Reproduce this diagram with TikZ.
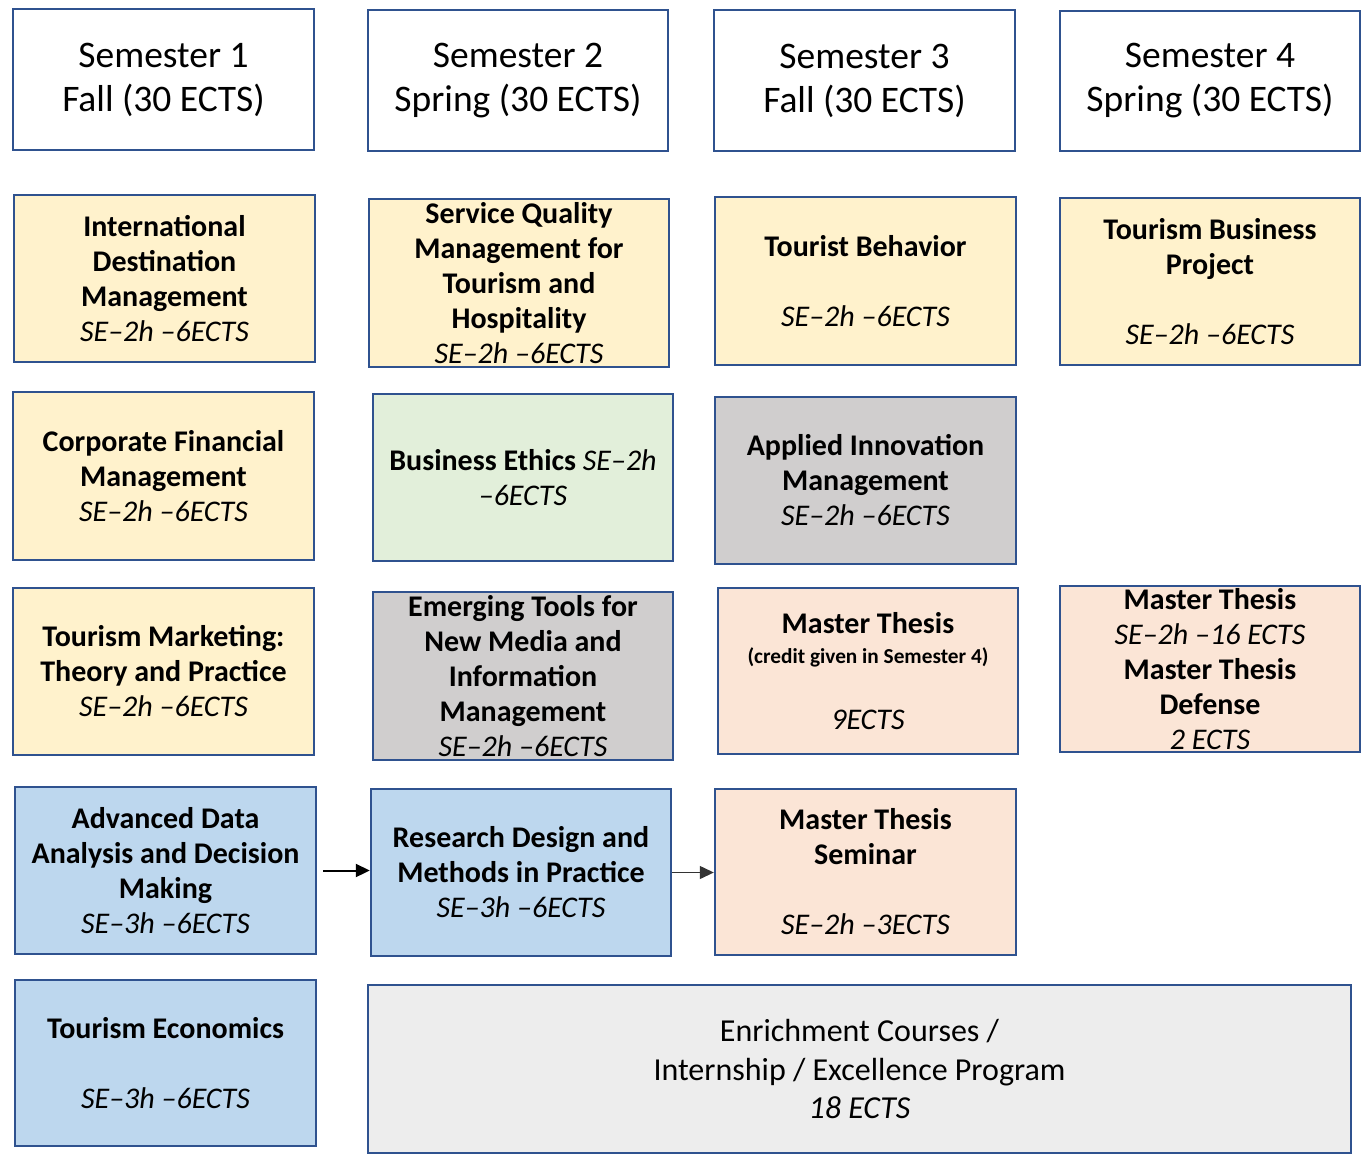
\documentclass[tikz,border=0pt]{standalone}
\usepackage{fontspec}
\setmainfont{Carlito}
\usetikzlibrary{arrows.meta}
\definecolor{bord}{RGB}{47,82,143}
\definecolor{cyellow}{HTML}{FFF2CC}
\definecolor{cgreen}{HTML}{E2EFDA}
\definecolor{cgrey}{HTML}{D0CECE}
\definecolor{cpeach}{HTML}{FBE5D6}
\definecolor{cblue}{HTML}{BDD7EE}
\definecolor{clight}{HTML}{EDEDED}
\tikzset{
  boxbase/.style={draw=bord, line width=2.4pt, rectangle, align=center, inner sep=0pt},
  semhead/.style={boxbase, fill=white, font=\fontsize{37.5}{44}\selectfont},
  course/.style={boxbase, font=\fontsize{30}{35}\selectfont\bfseries},
  enrich/.style={boxbase, fill=clight, font=\fontsize{32}{38.5}\selectfont},
  arr/.style={-{Triangle[length=14pt,width=13pt]}, line width=2pt, black},
  arrthin/.style={-{Triangle[length=14pt,width=13pt]}, line width=1.3pt, black!80}
}
\newcommand{\se}[1]{{\itshape\mdseries #1}}
\begin{document}
\begin{tikzpicture}[x=1pt,y=-1pt]
\useasboundingbox (0,0) rectangle (1364,1154);
% semester headers
\node[semhead, minimum width=301, minimum height=141] (s1) at (163.5,79.5) {Semester 1\\Fall (30 ECTS)};
\node[semhead, minimum width=300, minimum height=141] (s2) at (518,80.5) {Semester 2\\Spring (30 ECTS)};
\node[semhead, minimum width=301, minimum height=141] (s3) at (864.5,80.5) {Semester 3\\Fall (30 ECTS)};
\node[semhead, minimum width=300, minimum height=140] (s4) at (1210,81) {Semester 4\\Spring (30 ECTS)};
% row 1
\node[course, fill=cyellow, minimum width=301, minimum height=167] (idm) at (164.5,278.5) {International\\Destination\\Management\\\se{SE–2h –6ECTS}};
\node[course, fill=cyellow, minimum width=300, minimum height=168] (sqm) at (519,283) {Service Quality\\Management for\\Tourism and\\Hospitality\\\se{SE–2h –6ECTS}};
\node[course, fill=cyellow, minimum width=301, minimum height=168] (tb) at (865.5,281) {Tourist Behavior\\[35pt]\se{SE–2h –6ECTS}};
\node[course, fill=cyellow, minimum width=300, minimum height=167] (tbp) at (1210,281.5) {Tourism Business\\Project\\[35pt]\se{SE–2h –6ECTS}};
% row 2
\node[course, fill=cyellow, minimum width=301, minimum height=168] (cfm) at (163.5,476) {Corporate Financial\\Management\\\se{SE–2h –6ECTS}};
\node[course, fill=cgreen, minimum width=300, minimum height=167] (be) at (523,477.5) {Business Ethics \se{SE–2h}\\\se{–6ECTS}};
\node[course, fill=cgrey, minimum width=301, minimum height=167] (aim) at (865.5,480.5) {Applied Innovation\\Management\\\se{SE–2h –6ECTS}};
% row 3
\node[course, fill=cyellow, minimum width=301, minimum height=167] (tmtp) at (163.5,671.5) {Tourism Marketing:\\Theory and Practice\\\se{SE–2h –6ECTS}};
\node[course, fill=cgrey, minimum width=300, minimum height=168] (et) at (523,676) {Emerging Tools for\\New Media and\\Information\\Management\\\se{SE–2h –6ECTS}};
\node[course, fill=cpeach, minimum width=300, minimum height=166] (mt) at (868,671) {Master Thesis\\[-5pt]{\fontsize{21.3}{24}\selectfont (credit given in Semester 4)}\\[31pt]\se{9ECTS}};
\node[course, fill=cpeach, minimum width=300, minimum height=166] (mtd) at (1210,669) {Master Thesis\\\se{SE–2h –16 ECTS}\\Master Thesis\\Defense\\\se{2 ECTS}};
% row 4
\node[course, fill=cblue, minimum width=301, minimum height=167] (ada) at (165.5,870.5) {Advanced Data\\Analysis and Decision\\Making\\\se{SE–3h –6ECTS}};
\node[course, fill=cblue, minimum width=300, minimum height=167] (rdm) at (521,872.5) {Research Design and\\Methods in Practice\\\se{SE–3h –6ECTS}};
\node[course, fill=cpeach, minimum width=301, minimum height=166] (mts) at (865.5,872) {Master Thesis\\Seminar\\[35pt]\se{SE–2h –3ECTS}};
% row 5
\node[course, fill=cblue, minimum width=301, minimum height=166] (te) at (165.5,1063) {Tourism Economics\\[35pt]\se{SE–3h –6ECTS}};
\node[enrich, minimum width=983, minimum height=168] (enr) at (859.5,1069) {Enrichment Courses /\\Internship / Excellence Program\\\textit{18 ECTS}};
% arrows
\draw[arr] ([xshift=6pt]ada.east) -- (ada.east -| rdm.west);
\draw[arrthin] (rdm.east) -- (rdm.east -| mts.west);
\end{tikzpicture}
\end{document}
